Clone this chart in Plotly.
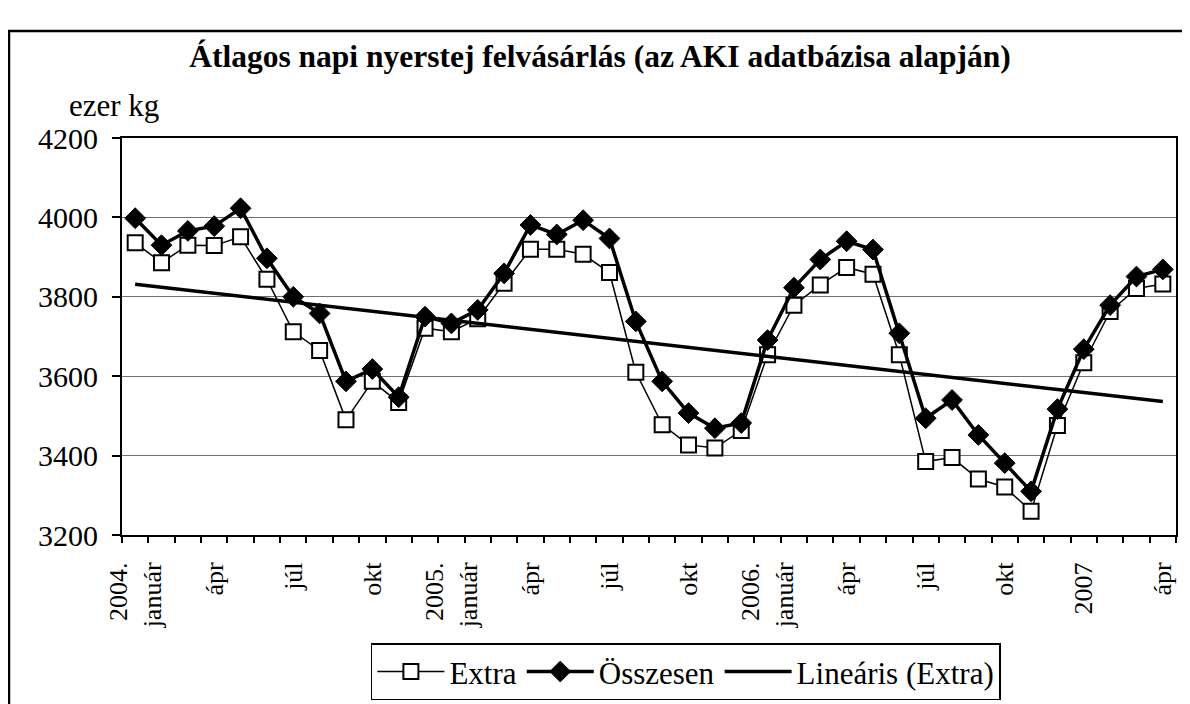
import numpy as np
import plotly.graph_objects as go

months = [f"{y}-{m:02d}" for y in (2004, 2005, 2006, 2007) for m in range(1, 13)][:40]

extra = [3936, 3886, 3930, 3929, 3951, 3844, 3712, 3665, 3490, 3587,
         3534, 3721, 3712, 3745, 3834, 3920, 3920, 3907, 3861, 3610,
         3478, 3427, 3419, 3463, 3654, 3779, 3830, 3874, 3857, 3654,
         3385, 3395, 3341, 3321, 3260, 3476, 3634, 3763, 3821, 3832]

osszesen = [3998, 3930, 3966, 3978, 4023, 3897, 3800, 3758, 3587, 3618,
            3547, 3750, 3733, 3767, 3859, 3981, 3957, 3993, 3947, 3738,
            3587, 3507, 3469, 3482, 3691, 3823, 3894, 3940, 3919, 3708,
            3494, 3540, 3452, 3381, 3310, 3517, 3668, 3779, 3851, 3869]

label_idx = [0, 3, 6, 9, 12, 15, 18, 21, 24, 27, 30, 33, 36, 39]
label_text = ["2004.<br>január", "ápr", "júl", "okt", "2005.<br>január", "ápr", "júl", "okt",
              "2006.<br>január", "ápr", "júl", "okt", "2007", "ápr"]

y_ticks = [3200, 3400, 3600, 3800, 4000, 4200]

# linear trend of Extra (Excel-style trendline)
idx = np.arange(len(extra))
slope, intercept = np.polyfit(idx, extra, 1)
trend = list(intercept + slope * idx)

FONT = "Liberation Serif, Times New Roman, serif"

fig = go.Figure()
fig.add_trace(go.Scatter(
    x=months, y=extra, name="Extra", mode="lines+markers",
    line=dict(color="black", width=1.5),
    marker=dict(symbol="square", size=15, color="white", line=dict(color="black", width=2)),
))
fig.add_trace(go.Scatter(
    x=months, y=osszesen, name="Összesen", mode="lines+markers",
    line=dict(color="black", width=3.5),
    marker=dict(symbol="diamond", size=16, color="black", line=dict(color="black", width=1)),
))
fig.add_trace(go.Scatter(
    x=months, y=trend, name="Lineáris (Extra)", mode="lines",
    line=dict(color="black", width=3.5),
))
# invisible trace on a helper axis for boundary ticks
fig.add_trace(go.Scatter(x=[-0.5, 39.5], y=[None, None], xaxis="x2", showlegend=False,
                         hoverinfo="skip"))

fig.update_layout(
    width=1190, height=704,
    margin=dict(l=114, r=22, t=130, b=177, autoexpand=False),
    paper_bgcolor="white", plot_bgcolor="white",
    font=dict(family=FONT, color="black", size=30),
    title=dict(text="<b>Átlagos napi nyerstej felvásárlás (az AKI adatbázisa alapján)</b>",
               x=592 / 1190, xref="container", y=1 - 48 / 704, yref="container",
               xanchor="center", yanchor="middle",
               font=dict(family=FONT, size=31.5, color="black")),
    xaxis=dict(
        type="category", categoryorder="array", categoryarray=months,
        range=[-0.5, 39.5],
        tickvals=[months[i] for i in label_idx], ticktext=label_text,
        tickangle=-90, ticks="", showgrid=False,
        tickfont=dict(family=FONT, size=26),
        ticklabelstandoff=15,
        showline=True, linecolor="black", linewidth=2, mirror=True,
        zeroline=False, automargin=False,
    ),
    xaxis2=dict(
        overlaying="x", side="bottom", range=[-0.5, 39.5],
        tick0=-0.5, dtick=1, ticks="outside", ticklen=7, tickwidth=1.5, tickcolor="black",
        showticklabels=False, showgrid=False, zeroline=False, showline=False,
        automargin=False,
    ),
    yaxis=dict(
        range=[3200, 4200], tickvals=y_ticks, ticks="outside", ticklen=8,
        tickwidth=1.5, tickcolor="black",
        ticklabelstandoff=8,
        showgrid=True, gridcolor="#707070", gridwidth=1,
        showline=True, linecolor="black", linewidth=2, mirror=True,
        zeroline=False, tickfont=dict(family=FONT, size=30), automargin=False,
    ),
    legend=dict(
        orientation="h", x=0.535, xanchor="center", y=-0.273, yanchor="top",
        bordercolor="black", borderwidth=1.5, bgcolor="white",
        font=dict(family=FONT, size=31), itemwidth=67,
        tracegroupgap=0,
    ),
    showlegend=True,
    annotations=[dict(text="ezer kg", xref="paper", yref="paper",
                      x=(114 - 122) / 1054, y=(535 - 105) / 397,
                      xanchor="center", yanchor="middle", showarrow=False,
                      font=dict(family=FONT, size=31))],
    shapes=[dict(type="rect", xref="paper", yref="paper",
                 x0=(9 - 122) / 1054, x1=(1200 - 122) / 1054,
                 y0=(535 - 720) / 397, y1=(535 - 31) / 397,
                 line=dict(color="black", width=2.5), fillcolor="rgba(0,0,0,0)",
                 layer="below")],
)

fig.write_html("out.html")
